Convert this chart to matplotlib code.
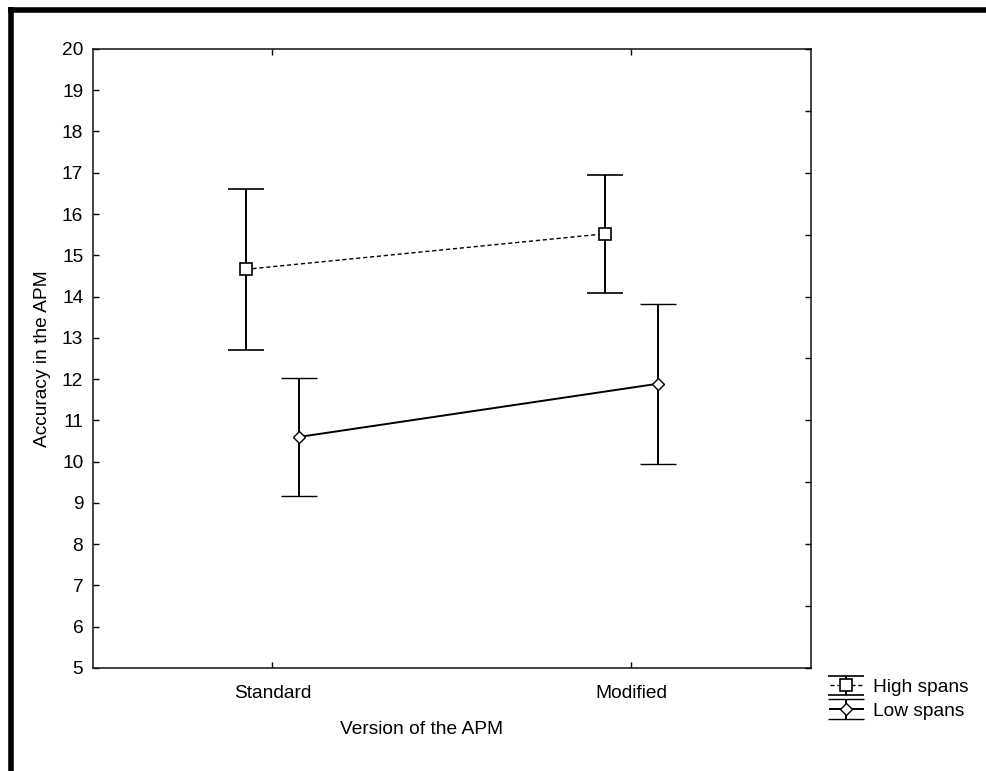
import numpy as np
import matplotlib
matplotlib.use("Agg")
import matplotlib.pyplot as plt
from matplotlib.lines import Line2D

plt.rcParams['font.family'] = ['Liberation Sans', 'DejaVu Sans']

# --- data ---
versions = ["Standard", "Modified"]
high_mean = [14.66, 15.52]
high_err = [1.95, 1.43]
low_mean = [10.60, 11.89]
low_err = [1.43, 1.94]

FS = 13.8

fig = plt.figure(figsize=(9.86, 7.71), dpi=100, facecolor='white')
ax = fig.add_axes([0.0943, 0.1336, 0.7282, 0.8029])

pos = np.arange(1, len(versions) + 1)
off = 0.075

h = ax.errorbar(pos - off, high_mean, yerr=high_err, color='black', ls=(0, (3, 2)),
                lw=1.0, marker='s', ms=8, mfc='white', mec='black', mew=1.2,
                elinewidth=1.4, capsize=13, capthick=1.4, label='High spans')
l = ax.errorbar(pos + off, low_mean, yerr=low_err, color='black', ls='-',
                lw=1.4, marker='D', ms=6.5, mfc='white', mec='black', mew=1.0,
                elinewidth=1.4, capsize=13, capthick=1.4, label='Low spans')

ax.set_xlim(0.5, 2.5)
ax.set_ylim(5, 20)
ax.set_xticks(pos)
ax.set_xticklabels(versions, fontsize=FS)
ax.set_yticks(np.arange(5, 21, 1))
ax.tick_params(axis='y', direction='in', length=4, width=1, labelsize=FS, pad=7)
ax.tick_params(axis='x', direction='in', length=4, width=1, labelsize=FS, pad=12, top=True)
for sp in ax.spines.values():
    sp.set_linewidth(1.2)
    sp.set_color('#222222')

# right-hand ticks sit on their own 1.5 grid
ax2 = ax.twinx()
ax2.set_ylim(5, 20)
ax2.set_yticks(np.arange(5, 20.01, 1.5))
ax2.tick_params(axis='y', direction='in', length=4, width=1, labelright=False)
for sp in ax2.spines.values():
    sp.set_visible(False)

ax.set_ylabel("Accuracy in the APM", fontsize=FS, labelpad=8)
fig.text(422 / 986, 1 - 729 / 771, "Version of the APM", fontsize=FS, ha='center', va='center')

leg = fig.legend(handles=[h, l], loc='upper left', bbox_to_anchor=(822 / 986, 1 - 671 / 771),
                 frameon=False, fontsize=FS, handlelength=1.75, handletextpad=0.5,
                 labelspacing=0.32, borderaxespad=0)

# thick frame on top and left of the picture
fig.add_artist(Line2D([8 / 986, 1], [1 - 9.5 / 771] * 2, transform=fig.transFigure,
                      color='black', lw=4, solid_capstyle='butt'))
fig.add_artist(Line2D([10.5 / 986] * 2, [0, 1 - 7 / 771], transform=fig.transFigure,
                      color='black', lw=4, solid_capstyle='butt'))

fig.savefig("out.png", dpi=100)
